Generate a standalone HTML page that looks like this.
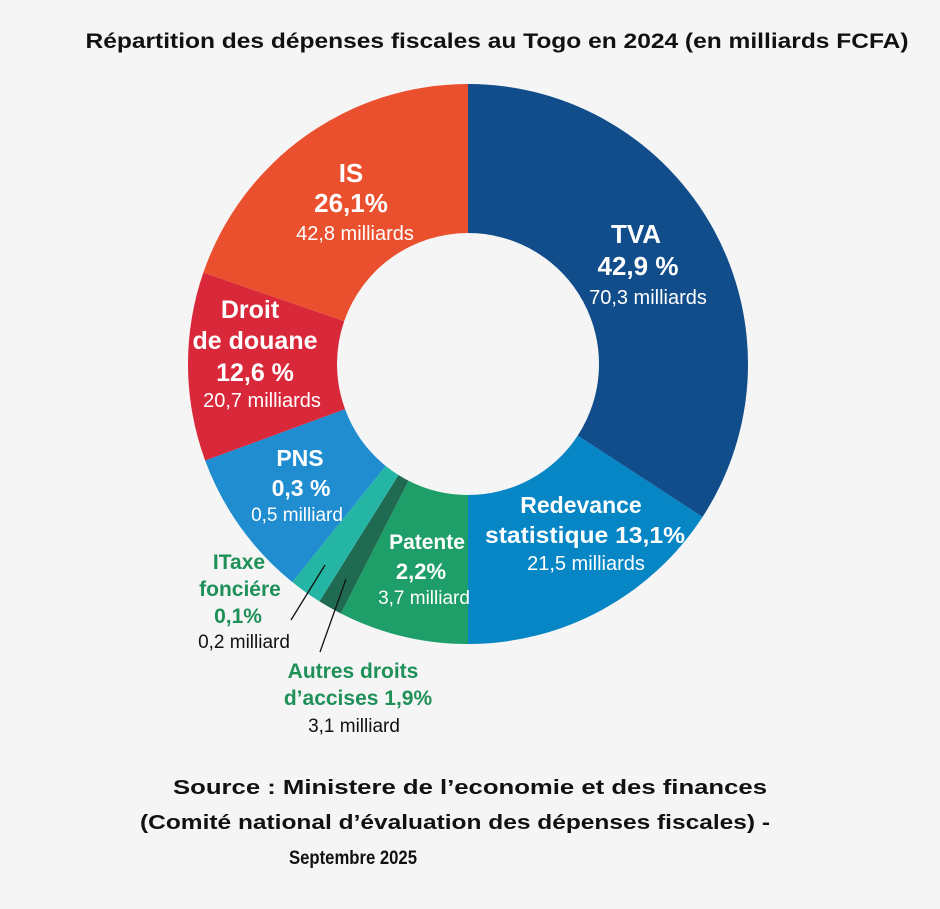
<!DOCTYPE html>
<html><head><meta charset="utf-8"><style>
html,body{margin:0;padding:0;background:#f5f5f5;}
svg{display:block;font-family:"Liberation Sans",sans-serif;}
</style></head><body>
<svg id="chart" width="940" height="909" viewBox="0 0 940 909">
<rect width="940" height="909" fill="#f5f5f5"/>
<text x="497" y="48" text-anchor="middle" font-weight="bold" font-size="21" textLength="823" lengthAdjust="spacingAndGlyphs" fill="#111">Répartition des dépenses fiscales au Togo en 2024 (en milliards FCFA)</text>
<g id="slices"></g>
<g id="labels" text-anchor="middle">
<g fill="#fff" font-weight="bold" font-size="26">
<text x="351" y="182">IS</text>
<text x="351" y="212">26,1%</text>
<text x="636" y="243">TVA</text>
<text x="638" y="275">42,9 %</text>
<text x="250" y="318" font-size="25">Droit</text>
<text x="255" y="349" font-size="25">de douane</text>
<text x="255" y="381" font-size="25">12,6 %</text>
<text x="300" y="466" font-size="23">PNS</text>
<text x="301" y="496" font-size="23">0,3 %</text>
<text x="581" y="513" font-size="23">Redevance</text>
<text x="585" y="543" font-size="23" textLength="200" lengthAdjust="spacingAndGlyphs">statistique 13,1%</text>
<text x="427" y="549" font-size="21">Patente</text>
<text x="421" y="579" font-size="22">2,2%</text>
</g>
<g fill="#fff" font-size="20">
<text x="355" y="240">42,8 milliards</text>
<text x="648" y="304">70,3 milliards</text>
<text x="262" y="407">20,7 milliards</text>
<text x="297" y="521" font-size="19">0,5 milliard</text>
<text x="586" y="570">21,5 milliards</text>
<text x="424" y="604" font-size="19">3,7 milliard</text>
</g>
<g fill="#1e9058" font-weight="bold" font-size="21">
<text x="239" y="569">ITaxe</text>
<text x="240" y="596">fonciére</text>
<text x="238" y="623">0,1%</text>
<text x="353" y="678">Autres droits</text>
<text x="358" y="705">d’accises 1,9%</text>
</g>
<g fill="#111" font-size="19">
<text x="244" y="648">0,2 milliard</text>
<text x="354" y="732">3,1 milliard</text>
</g>
</g>
<line x1="325" y1="565" x2="291" y2="620" stroke="#111" stroke-width="1.3"/>
<line x1="346" y1="579" x2="320" y2="652" stroke="#111" stroke-width="1.3"/>
<g fill="#111" font-weight="bold" font-size="20" text-anchor="middle">
<text x="470" y="794" textLength="594" lengthAdjust="spacingAndGlyphs">Source : Ministere de l’economie et des finances</text>
<text x="455" y="829" textLength="630" lengthAdjust="spacingAndGlyphs">(Comité national d’évaluation  des dépenses fiscales) -</text>
<text x="353" y="864" font-size="19" textLength="128" lengthAdjust="spacingAndGlyphs">Septembre 2025</text>
</g>
</svg>
<script>
// visual share of each slice as drawn (percent of full circle)
const categories = ["TVA","Redevance statistique","Patente","Autres droits d'accises","Taxe foncière","PNS","Droit de douane","IS"];
const visualShares = [34.2, 15.8, 7.5, 1.4, 1.9, 8.6, 10.9, 19.7];
const colors = ["#114d8a","#0686c4","#1e9e68","#1f6a50","#24b5a5","#1f8dd0","#d9283a","#ea502d"];
const cx = 468, cy = 364, R = 280, r = 131;
const total = visualShares.reduce((a,b)=>a+b,0);
function angleOf(v){ return v/total*2*Math.PI; }
function pt(rad, a){ return [cx + rad*Math.sin(a), cy - rad*Math.cos(a)]; }
const g = document.getElementById('slices');
let acc = 0;
visualShares.forEach((v,i)=>{
  const a0 = angleOf(acc), a1 = angleOf(acc+v); acc += v;
  const large = (a1-a0) > Math.PI ? 1 : 0;
  const [x0,y0]=pt(R,a0),[x1,y1]=pt(R,a1),[x2,y2]=pt(r,a1),[x3,y3]=pt(r,a0);
  const p = document.createElementNS('http://www.w3.org/2000/svg','path');
  p.setAttribute('d',`M${x0},${y0}A${R},${R} 0 ${large} 1 ${x1},${y1}L${x2},${y2}A${r},${r} 0 ${large} 0 ${x3},${y3}Z`);
  p.setAttribute('fill',colors[i]);
  
  
  g.appendChild(p);
});
</script>
</body></html>
